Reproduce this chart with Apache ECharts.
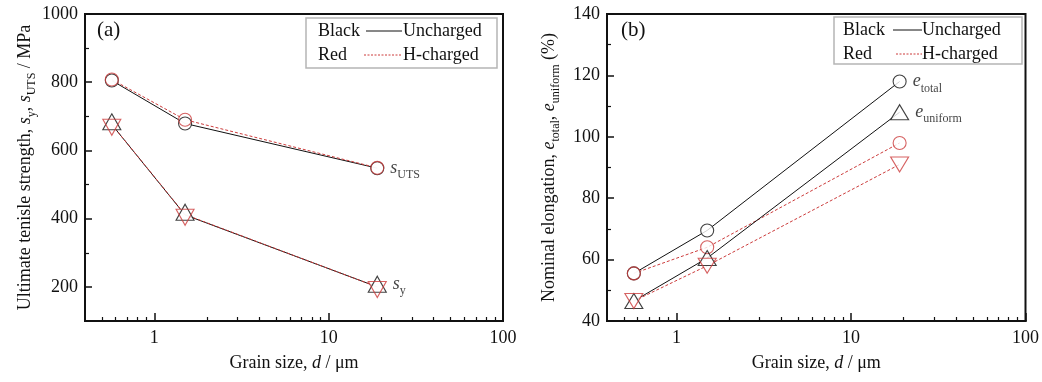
<!DOCTYPE html>
<html>
<head>
<meta charset="utf-8">
<script src="https://cdn.jsdelivr.net/npm/echarts@6/dist/echarts.min.js"></script>
<style>html,body{margin:0;padding:0;background:#fff}#c{width:1042px;height:382px}</style>
</head>
<body>
<div id="c"></div>
<script>
// ---- data ----
const grainSize = [0.57, 1.5, 19];
const utsUncharged = [805, 679, 548];
const utsCharged = [808, 690, 549];
const ysUncharged = [676, 411, 200];
const ysCharged = [676, 412, 200];
const elTotalUncharged = [55.5, 69.5, 118];
const elTotalCharged = [55.5, 64, 98];
const elUniformUncharged = [46.5, 60.5, 108];
const elUniformCharged = [46.5, 58, 91];
const xMajorTicks = [1, 10, 100];
const xMinorTicks = [0.5, 0.6, 0.7, 0.8, 0.9, 2, 3, 4, 5, 6, 7, 8, 9, 20, 30, 40, 50, 60, 70, 80, 90];
const yMajorA = [200, 400, 600, 800, 1000];
const yMinorA = [300, 500, 700, 900];
const yMajorB = [40, 60, 80, 100, 120, 140];
const yMinorB = [50, 70, 90, 110, 130];

const FONT = 'Liberation Serif';
const BLACK = '#111';
const RED = '#cc3b3b';

const chart = echarts.init(document.getElementById('c'));

const rich = {
  i: {fontFamily: FONT, fontSize: 18, fontStyle: 'italic', color: BLACK},
  sub: {fontFamily: FONT, fontSize: 12, color: BLACK, verticalAlign: 'bottom'}
};

const axisLineStyle = {show: true, onZero: false, lineStyle: {color: BLACK, width: 2}};

function xAxes(grid) {
  return [
    {
      gridIndex: grid, type: 'log', logBase: 10, min: 0.4, max: 100, position: 'bottom',
      axisLine: axisLineStyle,
      axisTick: {show: true, inside: true, length: 8, lineStyle: {color: BLACK, width: 1.5}, customValues: xMajorTicks},
      axisLabel: {show: true, margin: 8, fontFamily: FONT, fontSize: 18, color: BLACK, customValues: xMajorTicks,
        formatter: v => String(Math.round(v))},
      splitLine: {show: false}, minorTick: {show: false},
      name: 'Grain size, {i|d} / μm', nameLocation: 'middle', nameGap: 33,
      nameTextStyle: {fontFamily: FONT, fontSize: 18, color: BLACK, rich: rich}
    },
    {
      gridIndex: grid, type: 'log', logBase: 10, min: 0.4, max: 100, position: 'bottom',
      axisLine: axisLineStyle,
      axisTick: {show: true, inside: true, length: 4, lineStyle: {color: BLACK, width: 1.2}, customValues: xMinorTicks},
      axisLabel: {show: true, customValues: xMinorTicks, formatter: () => ''},
      splitLine: {show: false}, minorTick: {show: false}
    }
  ];
}

function yAxes(grid, min, max, major, minor, name, gap) {
  return [
    {
      gridIndex: grid, type: 'value', min: min, max: max, position: 'left',
      axisLine: axisLineStyle,
      axisTick: {show: true, inside: true, length: 7, lineStyle: {color: BLACK, width: 1.5}, customValues: major},
      axisLabel: {show: true, margin: 7, fontFamily: FONT, fontSize: 18, color: BLACK, customValues: major,
        formatter: v => String(v)},
      splitLine: {show: false},
      name: name, nameLocation: 'middle', nameGap: gap,
      nameTextStyle: {fontFamily: FONT, fontSize: 18, color: BLACK, lineHeight: 26, rich: rich}
    },
    {
      gridIndex: grid, type: 'value', min: min, max: max, position: 'left',
      axisLine: axisLineStyle,
      axisTick: {show: true, inside: true, length: 4, lineStyle: {color: BLACK, width: 1.2}, customValues: minor},
      axisLabel: {show: true, customValues: minor, formatter: () => ''},
      splitLine: {show: false}
    }
  ];
}

// builds line + white mask + outline marker series for one curve
function curve(grid, ys, color, dashed, symbol, size, rotate, offset, labelText) {
  const data = grainSize.map((x, k) => [x, ys[k]]);
  const mainAxes = {xAxisIndex: grid * 2, yAxisIndex: grid * 2};
  const minorAxes = {xAxisIndex: grid * 2 + 1, yAxisIndex: grid * 2 + 1};
  const out = [];
  out.push(Object.assign({
    type: 'line', data: data, showSymbol: false, symbol: 'none', z: 2, silent: true,
    lineStyle: {color: color, width: 1, type: dashed ? [3, 2] : 'solid'}
  }, mainAxes));
  out.push(Object.assign({
    type: 'scatter', data: data, symbol: symbol, symbolSize: size, symbolRotate: rotate, symbolOffset: offset,
    z: 3, silent: true, itemStyle: {color: '#fff', borderWidth: 0}
  }, minorAxes));
  const s = Object.assign({
    type: 'scatter', data: data, symbol: symbol, symbolSize: size, symbolRotate: rotate, symbolOffset: offset,
    z: 4, silent: true, itemStyle: {color: 'rgba(0,0,0,0)', borderColor: color, borderWidth: 1.1}
  }, mainAxes);
  if (labelText) {
    s.label = {
      show: true, position: 'right', distance: 6, fontFamily: FONT, fontSize: 18, color: BLACK, lineHeight: 26,
      formatter: p => p.dataIndex === grainSize.length - 1 ? labelText : '',
      rich: rich
    };
  }
  out.push(s);
  return out;
}

function legendGraphics(bx, by, bw, bh, tx, l1, l2a, l2b, t2) {
  const ts = {fontFamily: FONT, fontSize: 18, fill: BLACK, verticalAlign: 'middle'};
  return [
    {type: 'rect', z: 10, shape: {x: bx, y: by, width: bw, height: bh}, style: {fill: '#fff', stroke: '#b5b5b5', lineWidth: 1.5}},
    {type: 'text', z: 11, x: tx, y: by + 13, style: Object.assign({text: 'Black'}, ts)},
    {type: 'line', z: 11, shape: {x1: l1, y1: by + 13, x2: l2b, y2: by + 13}, style: {stroke: BLACK, lineWidth: 1}},
    {type: 'text', z: 11, x: t2, y: by + 13, style: Object.assign({text: 'Uncharged'}, ts)},
    {type: 'text', z: 11, x: tx, y: by + 37, style: Object.assign({text: 'Red'}, ts)},
    {type: 'line', z: 11, shape: {x1: l2a, y1: by + 37, x2: l2b, y2: by + 37}, style: {stroke: RED, lineWidth: 1, lineDash: [2, 1.5]}},
    {type: 'text', z: 11, x: t2, y: by + 37, style: Object.assign({text: 'H-charged'}, ts)}
  ];
}

const series = [].concat(
  curve(0, utsUncharged, BLACK, false, 'circle', 13, 0, [0, 0], '{i|s}{sub|UTS}'),
  curve(0, utsCharged, RED, true, 'circle', 13, 0, [0, 0], null),
  curve(0, ysUncharged, BLACK, false, 'triangle', [18, 16], 0, [0, -2.7], '{i|s}{sub|y}'),
  curve(0, ysCharged, RED, true, 'triangle', [18, 16], 180, [0, 2.7], null),
  curve(1, elTotalUncharged, BLACK, false, 'circle', 13, 0, [0, 0], '{i|e}{sub|total}'),
  curve(1, elTotalCharged, RED, true, 'circle', 13, 0, [0, 0], null),
  curve(1, elUniformUncharged, BLACK, false, 'triangle', [18, 15], 0, [0, 0], '{i|e}{sub|uniform}'),
  curve(1, elUniformCharged, RED, true, 'triangle', [18, 15], 180, [0, 0], null)
);

const option = {
  backgroundColor: '#fff',
  animation: false,
  grid: [
    {left: 85, top: 14, width: 418, height: 307, show: true, borderColor: BLACK, borderWidth: 2, backgroundColor: 'transparent'},
    {left: 607, top: 14, width: 419, height: 307, show: true, borderColor: BLACK, borderWidth: 2, backgroundColor: 'transparent'}
  ],
  xAxis: [].concat(xAxes(0), xAxes(1)),
  yAxis: [].concat(
    yAxes(0, 100, 1000, yMajorA, yMinorA, 'Ultimate tenisle strength, {i|s}{sub|y}, {i|s}{sub|UTS} / MPa', 47),
    yAxes(1, 40, 140, yMajorB, yMinorB, 'Nominal elongation, {i|e}{sub|total}, {i|e}{sub|uniform} (%)', 45)
  ),
  series: series,
  graphic: [].concat(
    legendGraphics(306, 18, 191, 50, 318, 366, 364, 402, 403),
    legendGraphics(834, 17, 188, 47, 843, 893, 896, 922, 922),
    [
      {type: 'text', z: 11, x: 97, y: 30, style: {text: '(a)', fontFamily: FONT, fontSize: 21, fill: BLACK, verticalAlign: 'middle'}},
      {type: 'text', z: 11, x: 621, y: 30, style: {text: '(b)', fontFamily: FONT, fontSize: 21, fill: BLACK, verticalAlign: 'middle'}}
    ]
  )
};
chart.setOption(option);
</script>
</body>
</html>
